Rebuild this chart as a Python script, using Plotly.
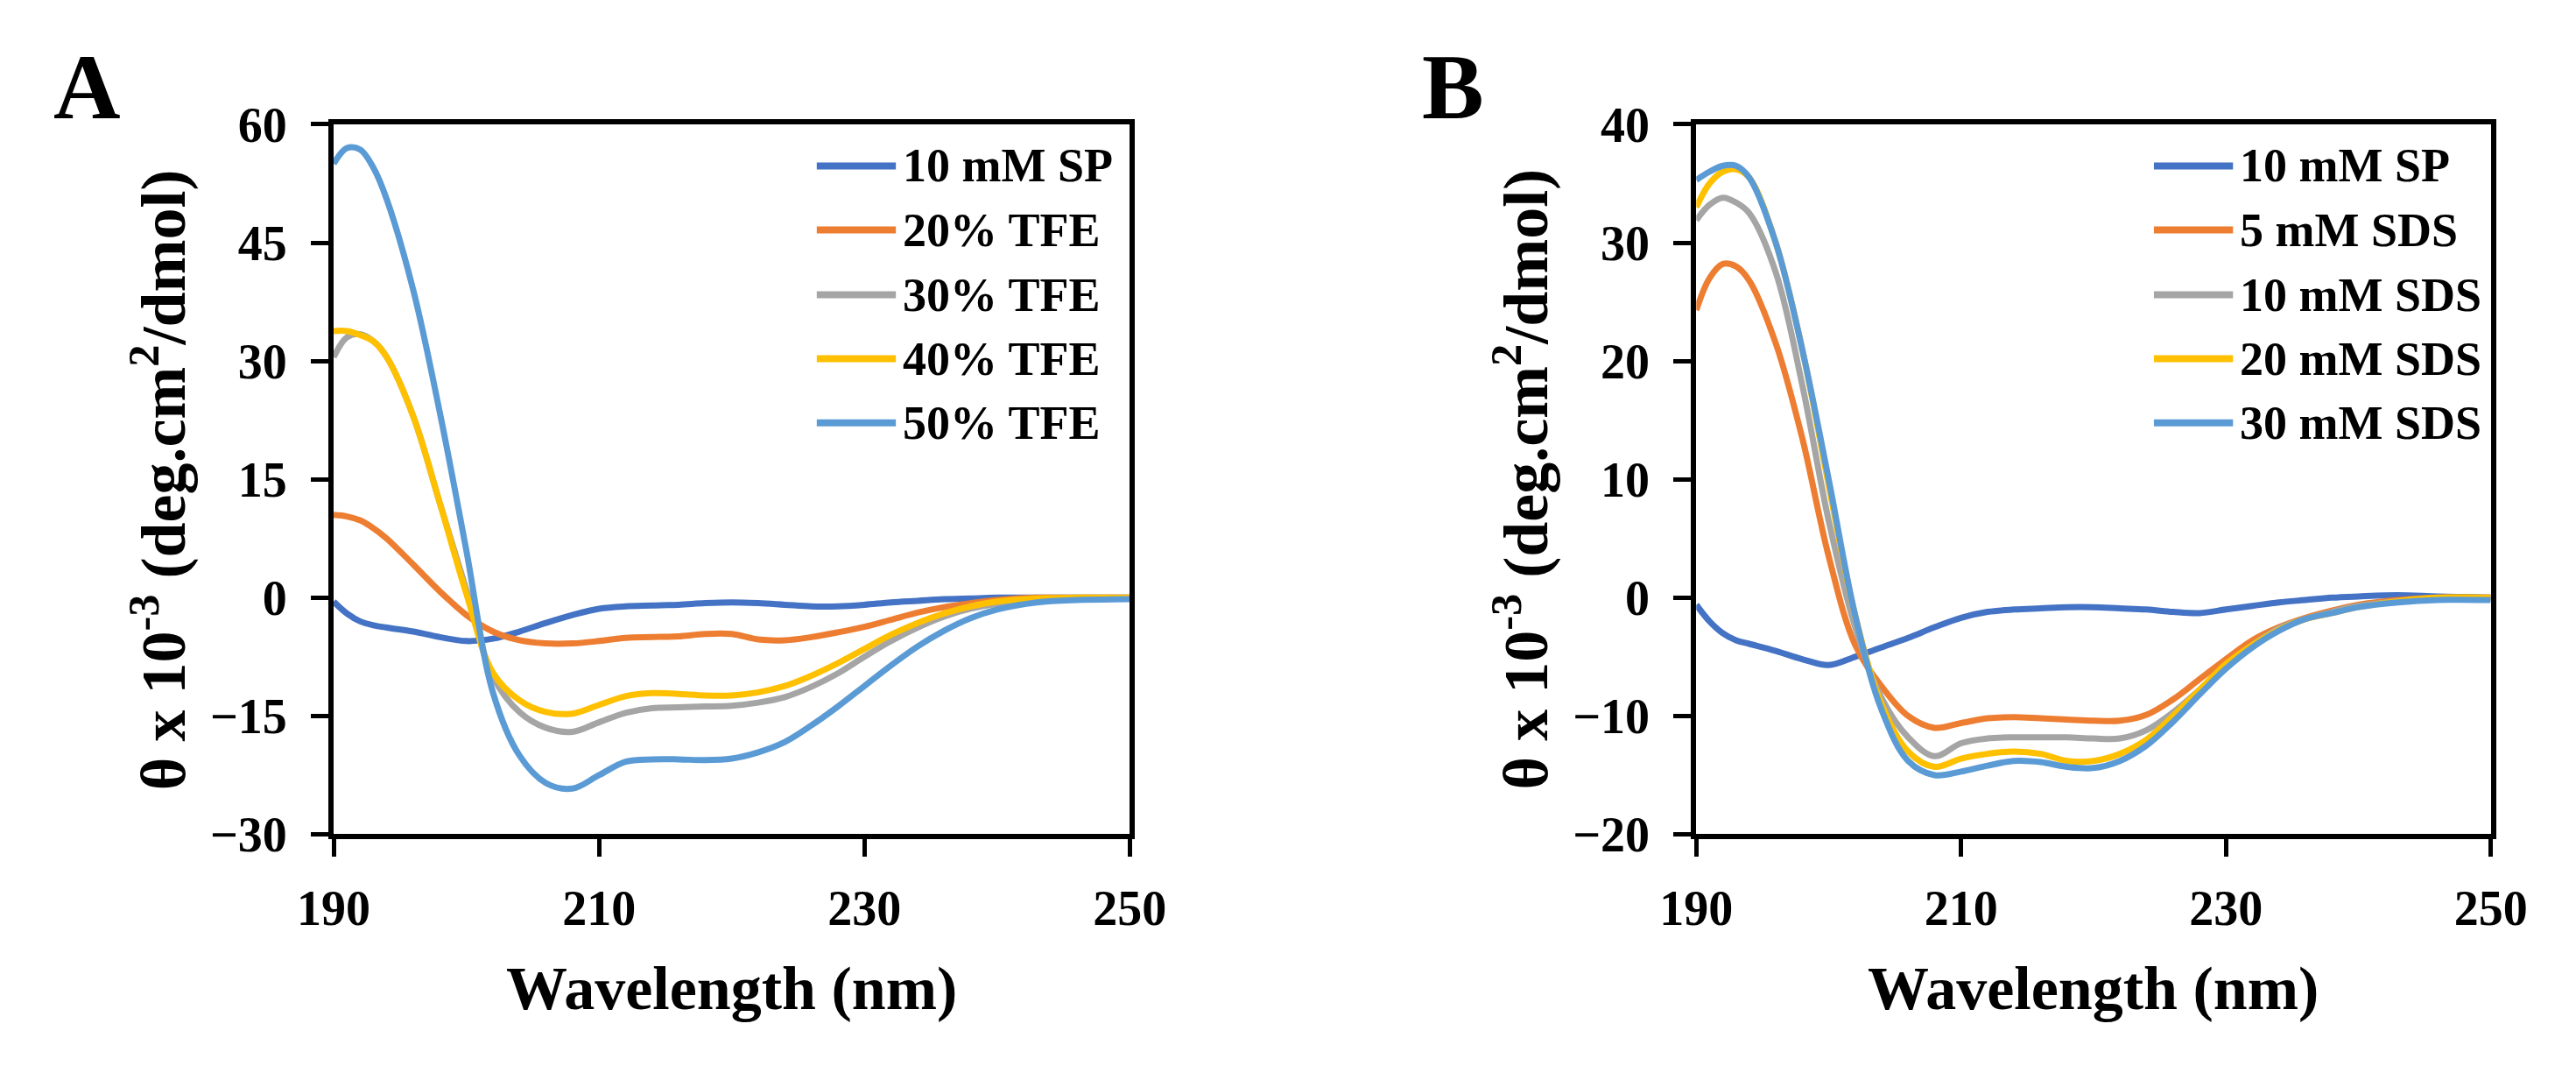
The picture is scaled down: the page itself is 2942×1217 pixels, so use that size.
import plotly.graph_objects as go

W, H = 2942, 1217

# ---------------- data ----------------
wavelength = [190, 191, 192, 193, 194, 196, 198, 200, 202, 204, 206, 208, 210, 212, 214,
              216, 218, 220, 222, 224, 226, 228, 230, 232, 234, 236, 238, 240, 243, 246, 250]

# Panel A (TFE)
a_names = ["10 mM SP", "20% TFE", "30% TFE", "40% TFE", "50% TFE"]
a_sp = [-0.5, -2.0, -3.0, -3.5, -3.8, -4.3, -5.0, -5.5, -5.2, -4.3, -3.2, -2.2, -1.4, -1.1, -1.0,
        -0.9, -0.7, -0.6, -0.7, -0.9, -1.1, -1.1, -0.9, -0.6, -0.4, -0.2, -0.1, 0.0, 0.0, 0.0, 0.0]
a_tfe20 = [10.5, 10.3, 9.8, 8.8, 7.5, 4.2, 0.8, -2.2, -4.3, -5.4, -5.8, -5.8, -5.5, -5.1, -5.0,
           -4.9, -4.6, -4.6, -5.3, -5.4, -5.0, -4.4, -3.7, -2.8, -1.9, -1.2, -0.7, -0.3, 0.0, 0.0, 0.0]
a_tfe30 = [30.5, 33.0, 33.4, 32.5, 30.5, 23.0, 12.0, 1.0, -10.0, -14.5, -16.5, -17.0, -15.8, -14.6, -14.0,
           -13.9, -13.8, -13.7, -13.3, -12.6, -11.3, -9.6, -7.5, -5.5, -3.8, -2.4, -1.4, -0.8, -0.3, -0.1, -0.1]
a_tfe40 = [33.8, 33.8, 33.3, 32.5, 30.5, 23.0, 12.0, 0.5, -9.5, -13.0, -14.5, -14.7, -13.6, -12.5, -12.1,
           -12.2, -12.4, -12.4, -12.0, -11.2, -9.9, -8.3, -6.5, -4.7, -3.2, -2.0, -1.1, -0.5, -0.1, 0.0, 0.0]
a_tfe50 = [55.0, 57.0, 56.8, 54.5, 50.5, 39.0, 23.5, 6.0, -12.0, -20.0, -23.5, -24.2, -22.5, -20.8, -20.5,
           -20.5, -20.6, -20.4, -19.6, -18.3, -16.2, -13.8, -11.2, -8.6, -6.2, -4.2, -2.6, -1.5, -0.6, -0.3, -0.2]

# Panel B (SDS)
b_names = ["10 mM SP", "5 mM SDS", "10 mM SDS", "20 mM SDS", "30 mM SDS"]
b_sp = [-0.6, -2.0, -3.0, -3.6, -3.9, -4.5, -5.2, -5.7, -5.0, -4.2, -3.4, -2.5, -1.7, -1.2, -1.0,
        -0.9, -0.8, -0.8, -0.9, -1.0, -1.2, -1.3, -1.0, -0.7, -0.4, -0.2, 0.0, 0.1, 0.2, 0.1, 0.0]
b_sds5 = [24.3, 27.0, 28.2, 28.0, 26.8, 21.5, 13.5, 3.5, -4.0, -7.5, -10.0, -11.0, -10.6, -10.2, -10.1,
          -10.2, -10.3, -10.4, -10.4, -9.9, -8.6, -6.9, -5.2, -3.6, -2.5, -1.7, -1.1, -0.6, -0.2, 0.0, 0.0]
b_sds10 = [31.9, 33.2, 33.8, 33.4, 32.5, 27.5, 18.0, 6.5, -2.5, -8.5, -11.8, -13.4, -12.3, -11.9, -11.8,
           -11.8, -11.8, -11.9, -11.9, -11.2, -9.7, -7.8, -5.8, -4.0, -2.6, -1.8, -1.2, -0.7, -0.3, -0.1, 0.0]
b_sds20 = [33.0, 35.0, 36.0, 36.2, 35.5, 30.0, 21.0, 9.5, -1.5, -9.0, -13.0, -14.3, -13.6, -13.2, -13.0,
           -13.2, -13.8, -13.8, -13.2, -12.0, -10.0, -7.8, -5.6, -4.0, -2.7, -1.8, -1.3, -0.8, -0.3, 0.0, 0.0]
b_sds30 = [35.3, 36.0, 36.5, 36.5, 35.5, 30.0, 21.0, 10.0, -1.5, -9.5, -13.8, -15.0, -14.7, -14.2, -13.8,
           -13.9, -14.3, -14.4, -13.8, -12.5, -10.5, -8.2, -6.0, -4.2, -2.8, -1.8, -1.3, -0.8, -0.4, -0.2, -0.2]

colors = ["#4472C4", "#ED7D31", "#A5A5A5", "#FFC000", "#5B9BD5"]

a_series = [a_sp, a_tfe20, a_tfe30, a_tfe40, a_tfe50]
b_series = [b_sp, b_sds5, b_sds10, b_sds20, b_sds30]

a_yticks = [-30, -15, 0, 15, 30, 45, 60]
b_yticks = [-20, -10, 0, 10, 20, 30, 40]
x_ticks = [190, 210, 230, 250]

FONT = "Liberation Serif"


def px(x):
    return x / W


def py(y):
    return 1 - y / H


fig = go.Figure()

for name, vals, col in zip(a_names, a_series, colors):
    fig.add_trace(go.Scatter(x=wavelength, y=vals, name=name, mode="lines",
                             line=dict(color=col, width=7, shape="spline", smoothing=1.0),
                             xaxis="x", yaxis="y", showlegend=False))
for name, vals, col in zip(b_names, b_series, colors):
    fig.add_trace(go.Scatter(x=wavelength, y=vals, name=name, mode="lines",
                             line=dict(color=col, width=7, shape="spline", smoothing=1.0),
                             xaxis="x2", yaxis="y2", showlegend=False))

# plot-area pixel boxes
A_box = (349, 1285)
B_box = (1951, 2885)
top, bottom = 118, 972

tickfont = dict(family=FONT, size=56, color="black", weight="bold")
axis_common = dict(showline=True, linecolor="black", linewidth=6, mirror=True,
                   showgrid=False, zeroline=False, ticks="outside", ticklen=20,
                   tickwidth=5, tickcolor="black", tickfont=tickfont)

fig.update_layout(
    width=W, height=H, autosize=False,
    margin=dict(l=0, r=0, t=0, b=0),
    paper_bgcolor="white", plot_bgcolor="white",
    xaxis=dict(domain=[px(A_box[0]), px(A_box[1])], range=[190, 250], tickvals=x_ticks,
               anchor="y", ticklabelstandoff=10, **axis_common),
    yaxis=dict(domain=[py(bottom), py(top)], range=[-30, 60], tickvals=a_yticks,
               anchor="x", ticklabelstandoff=16, **axis_common),
    xaxis2=dict(domain=[px(B_box[0]), px(B_box[1])], range=[190, 250], tickvals=x_ticks,
                anchor="y2", ticklabelstandoff=10, **axis_common),
    yaxis2=dict(domain=[py(bottom), py(top)], range=[-20, 40], tickvals=b_yticks,
                anchor="x2", ticklabelstandoff=16, **axis_common),
)

xtitle_font = dict(family=FONT, size=70, color="black", weight="bold")
ytitle_font = dict(family=FONT, size=72, color="black", weight="bold")
ytitle = "θ x 10<sup>-3</sup> (deg.cm<sup>2</sup>/dmol)"

annotations = []
for (x0, x1), label, lx in [(A_box, "A", 22), (B_box, "B", 1630)]:
    # x title
    annotations.append(dict(text="Wavelength (nm)", x=px((x0 + x1) / 2), y=py(1157),
                            xref="paper", yref="paper", showarrow=False,
                            xanchor="center", yanchor="middle", font=xtitle_font))
    # y title
    annotations.append(dict(text=ytitle, x=px(x0 - 206), y=py((top + bottom) / 2),
                            xref="paper", yref="paper", showarrow=False, textangle=-90,
                            xanchor="center", yanchor="middle", font=ytitle_font))
    # panel letter
    annotations.append(dict(text=label, x=px(lx - 4), y=py(10), xref="paper", yref="paper",
                            showarrow=False, xanchor="left", yanchor="top",
                            font=dict(family=FONT, size=106, color="black", weight="bold")))

# custom legends (long line samples as in the original)
legend_rows = [168, 245, 323, 400, 477]
shapes = []
for names, (l0, l1) in [(a_names, (917, 1010)), (b_names, (2489, 2582))]:
    for name, col, ry in zip(names, colors, legend_rows):
        shapes.append(dict(type="line", xref="paper", yref="paper",
                           x0=px(l0), x1=px(l1), y0=py(ry), y1=py(ry),
                           line=dict(color=col, width=8)))
        annotations.append(dict(text=name, x=px(l1 + 6), y=py(ry), xref="paper", yref="paper",
                                showarrow=False, xanchor="left", yanchor="middle",
                                font=dict(family=FONT, size=54, color="black", weight="bold")))

fig.update_layout(annotations=annotations, shapes=shapes)

fig.write_html("out.html")
